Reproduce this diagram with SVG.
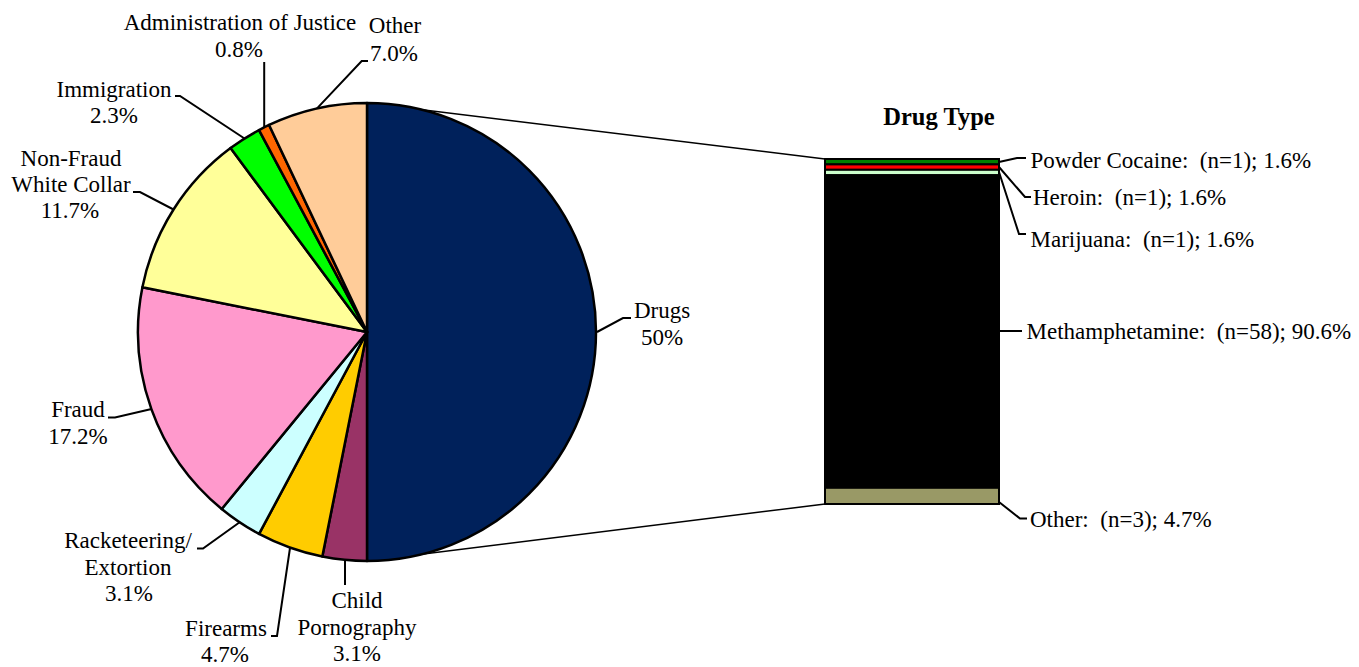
<svg xmlns="http://www.w3.org/2000/svg" width="1359" height="667" viewBox="0 0 1359 667">
<style>
text{font-family:"Liberation Serif","Times New Roman",serif;font-size:23px;fill:#000;white-space:pre}
.m{text-anchor:middle}
.t{font-weight:bold;font-size:24.5px;text-anchor:middle}
.s{stroke:#000;stroke-width:2.5;stroke-linejoin:round}
.b{stroke:#000;stroke-width:2}
.ld{fill:none;stroke:#000;stroke-width:2}
.cn{fill:none;stroke:#000;stroke-width:1.5}
</style>
<rect width="1359" height="667" fill="#fff"/>
<g id="connectors">
<line class="cn" x1="367" y1="103" x2="825" y2="159"/>
<line class="cn" x1="367" y1="561" x2="825" y2="504"/>
<path class="ld" d="M597,332 L623,318 L631,318"/>
<path class="ld" d="M345,560 L345,585"/>
<path class="ld" d="M290,548 L277,636 L271,636"/>
<path class="ld" d="M240,522 L203,548.5 L197,548.5"/>
<path class="ld" d="M151.5,409 L115,417.5 L108,417.5"/>
<path class="ld" d="M173.5,209.5 L140,192 L133,192"/>
<path class="ld" d="M244.5,138.5 L180,96 L175,96"/>
<path class="ld" d="M264.2,127.4 L264.2,62"/>
<path class="ld" d="M316.8,108.6 L361.7,61 L368,61"/>
<path class="ld" d="M999,162 L1017,158 L1026,158"/>
<path class="ld" d="M999,167 L1025,197 L1031,197"/>
<path class="ld" d="M999,172 L1019,234 L1026,234"/>
<path class="ld" d="M999,331 L1022,331"/>
<path class="ld" d="M999,502 L1020,518.5 L1027,518.5"/>
</g>
<g id="pie">
<g id="slice-drugs"><path class="s" fill="#00215B" d="M367,332 L367,103 A229,229 0 0 1 367,561 Z"/></g>
<g id="slice-child"><path class="s" fill="#993366" d="M367,332 L367,561 A229,229 0 0 1 322.32,556.60 Z"/></g>
<g id="slice-firearms"><path class="s" fill="#FFCC00" d="M367,332 L322.32,556.60 A229,229 0 0 1 259.05,533.96 Z"/></g>
<g id="slice-racket"><path class="s" fill="#CCFFFF" d="M367,332 L259.05,533.96 A229,229 0 0 1 221.72,509.02 Z"/></g>
<g id="slice-fraud"><path class="s" fill="#FF99CC" d="M367,332 L221.72,509.02 A229,229 0 0 1 142.40,287.32 Z"/></g>
<g id="slice-nfwc"><path class="s" fill="#FFFF99" d="M367,332 L142.40,287.32 A229,229 0 0 1 230.58,148.06 Z"/></g>
<g id="slice-immigration"><path class="s" fill="#00FF00" d="M367,332 L230.58,148.06 A229,229 0 0 1 259.05,130.04 Z"/></g>
<g id="slice-admin"><path class="s" fill="#FF6600" d="M367,332 L259.05,130.04 A229,229 0 0 1 269.09,124.99 Z"/></g>
<g id="slice-other"><path class="s" fill="#FFCC99" d="M367,332 L269.09,124.99 A229,229 0 0 1 367,103 Z"/></g>
</g>
<g id="bar">
<rect class="b" x="825" y="159" width="174" height="345" fill="#000"/>
<rect class="b" x="825" y="159" width="174" height="5.4" fill="#008000"/>
<rect class="b" x="825" y="164.4" width="174" height="5.4" fill="#FF0000"/>
<rect class="b" x="825" y="169.8" width="174" height="5.4" fill="#CCFFCC"/>
<rect class="b" x="825" y="175.2" width="174" height="312.6" fill="#000"/>
<rect class="b" x="825" y="487.8" width="174" height="16.2" fill="#999966"/>
</g>
<g id="labels-pie">
<g id="lbl-drugs"><text class="m" x="662" y="318">Drugs</text><text class="m" x="662" y="345">50%</text></g>
<g id="lbl-child"><text class="m" x="357" y="608">Child</text><text class="m" x="357" y="635">Pornography</text><text class="m" x="357" y="661">3.1%</text></g>
<g id="lbl-firearms"><text class="m" x="226" y="636">Firearms</text><text class="m" x="225" y="662">4.7%</text></g>
<g id="lbl-racket"><text class="m" x="128" y="548">Racketeering/</text><text class="m" x="128" y="575">Extortion</text><text class="m" x="129" y="601">3.1%</text></g>
<g id="lbl-fraud"><text class="m" x="78" y="417">Fraud</text><text class="m" x="78" y="444">17.2%</text></g>
<g id="lbl-nfwc"><text class="m" x="71" y="166">Non-Fraud</text><text class="m" x="71" y="192">White Collar</text><text class="m" x="70" y="218">11.7%</text></g>
<g id="lbl-immigration"><text class="m" x="114" y="97">Immigration</text><text class="m" x="114" y="123">2.3%</text></g>
<g id="lbl-admin"><text class="m" x="240" y="30">Administration of Justice</text><text class="m" x="239" y="57">0.8%</text></g>
<g id="lbl-other"><text class="m" x="395" y="33">Other</text><text class="m" x="394" y="61">7.0%</text></g>
</g>
<g id="labels-bar">
<text class="t" x="939" y="125">Drug Type</text>
<g id="lbl-cocaine"><text x="1030.5" y="167.5">Powder Cocaine:  (n=1); 1.6%</text></g>
<g id="lbl-heroin"><text x="1033" y="205">Heroin:  (n=1); 1.6%</text></g>
<g id="lbl-marijuana"><text x="1030.5" y="246.5">Marijuana:  (n=1); 1.6%</text></g>
<g id="lbl-meth"><text x="1026.5" y="338.5">Methamphetamine:  (n=58); 90.6%</text></g>
<g id="lbl-otherdrug"><text x="1030" y="527">Other:  (n=3); 4.7%</text></g>
</g>
</svg>
